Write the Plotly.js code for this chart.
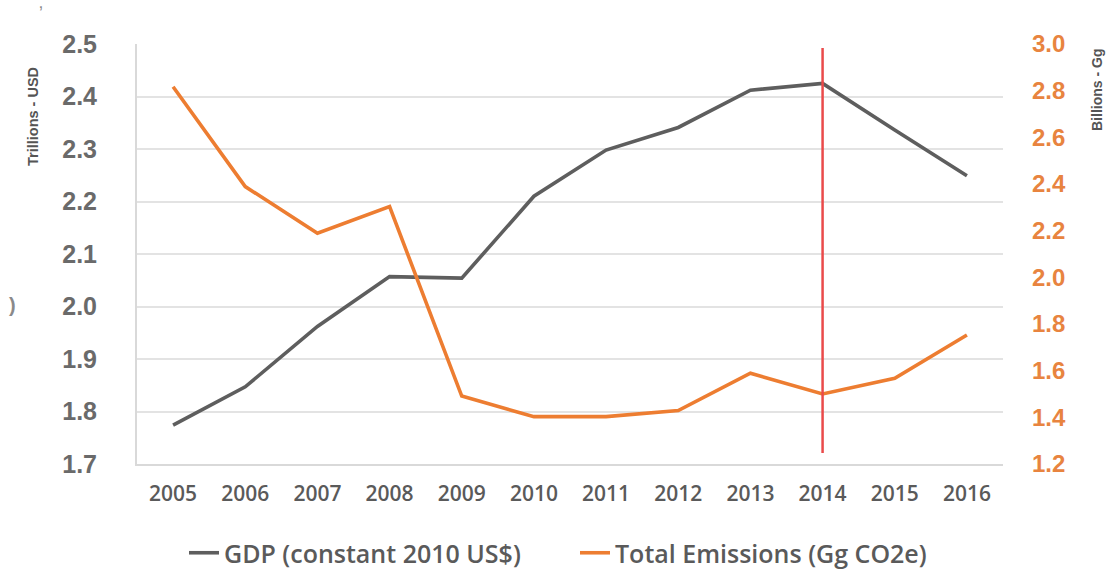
<!DOCTYPE html>
<html>
<head>
<meta charset="utf-8">
<script src="https://cdn.plot.ly/plotly-3.0.1.min.js"></script>
<style>html,body{margin:0;padding:0;background:#fff;}#chart{width:1107px;height:575px;}</style>
</head>
<body>
<div id="chart"></div>
<script>
var years = ['2005','2006','2007','2008','2009','2010','2011','2012','2013','2014','2015','2016'];
var gdp = [1.774, 1.847, 1.962, 2.057, 2.054, 2.210, 2.298, 2.341, 2.412, 2.425, 2.336, 2.249];
var emissions = [2.817, 2.389, 2.189, 2.303, 1.491, 1.403, 1.403, 1.429, 1.589, 1.500, 1.567, 1.753];
var gdpName = 'GDP (constant 2010 US$)';
var emName = 'Total Emissions (Gg CO2e)';
var leftTitle = 'Trillions - USD';
var rightTitle = 'Billions - Gg';
var markerYear = '2014';

var W = 1107, H = 575;
var mL = 137, mR = W - 1003, mT = 44, mB = H - 464;
var pw = W - mL - mR, ph = H - mT - mB;
function px(x){ return (x - mL) / pw; }
function py(y){ return (H - mB - y) / ph; }
function cx(x){ return x / W; }
function cy(y){ return (H - y) / H; }

var traces = [
  {x: years, y: gdp, name: gdpName, type: 'scatter', mode: 'lines', yaxis: 'y',
   line: {color: '#5e5e5e', width: 3.6}, legend: 'legend'},
  {x: years, y: emissions, name: emName, type: 'scatter', mode: 'lines', yaxis: 'y2',
   line: {color: '#ed7d31', width: 3.6}, legend: 'legend2'}
];

var legFont = {family: 'Open Sans', size: 25, color: '#5a5a5a', weight: 600};

var layout = {
  width: W, height: H,
  margin: {l: mL, r: mR, t: mT, b: mB, pad: 0},
  paper_bgcolor: '#ffffff', plot_bgcolor: '#ffffff',
  showlegend: true,
  xaxis: {
    type: 'category', categoryorder: 'array', categoryarray: years,
    range: [-0.5, years.length - 0.5], autorange: false,
    showgrid: false, zeroline: false,
    showline: true, linecolor: '#d9d9d9', linewidth: 2,
    ticks: '', ticklabelstandoff: 10,
    tickfont: {family: 'Open Sans', size: 21, color: '#5a5a5a', weight: 600}
  },
  yaxis: {
    range: [1.7, 2.5], dtick: 0.1, tick0: 1.7, tickformat: '.1f',
    showgrid: true, gridcolor: '#e3e3e3', gridwidth: 2,
    zeroline: false, showline: true, linecolor: '#d9d9d9', linewidth: 2,
    ticks: '', ticklabelstandoff: 33,
    tickfont: {family: 'Liberation Sans', size: 25, color: '#6a6a6a', weight: 700}
  },
  yaxis2: {
    overlaying: 'y', side: 'right',
    range: [1.2, 3.0], dtick: 0.2, tick0: 1.2, tickformat: '.1f',
    showgrid: false, zeroline: false, showline: false,
    ticks: '', ticklabelstandoff: 28,
    tickfont: {family: 'Liberation Sans', size: 24, color: '#e8843f', weight: 700}
  },
  legend: {
    orientation: 'h', x: cx(184), y: cy(553), xanchor: 'left', yanchor: 'middle',
    xref: 'container', yref: 'container', itemwidth: 30, font: legFont, bgcolor: 'rgba(0,0,0,0)'
  },
  legend2: {
    orientation: 'h', x: cx(575), y: cy(553), xanchor: 'left', yanchor: 'middle',
    xref: 'container', yref: 'container', itemwidth: 30, font: legFont, bgcolor: 'rgba(0,0,0,0)'
  },
  shapes: [
    {type: 'line', xref: 'x', yref: 'paper', x0: years.indexOf(markerYear), x1: years.indexOf(markerYear),
     y0: py(453), y1: py(48), line: {color: '#ea4a4a', width: 2.5}, layer: 'above'}
  ],
  annotations: [
    {text: leftTitle, xref: 'paper', yref: 'paper', x: px(33), y: py(117),
     xanchor: 'center', yanchor: 'middle', textangle: -90, showarrow: false,
     font: {family: 'Liberation Sans', size: 14.5, color: '#555555', weight: 700}},
    {text: rightTitle, xref: 'paper', yref: 'paper', x: px(1097), y: py(90),
     xanchor: 'center', yanchor: 'middle', textangle: -90, showarrow: false,
     font: {family: 'Liberation Sans', size: 14, color: '#555555', weight: 700}},
    {text: ')', xref: 'paper', yref: 'paper', x: px(12), y: py(305),
     xanchor: 'center', yanchor: 'middle', showarrow: false,
     font: {family: 'Liberation Sans', size: 20, color: '#8a8a8a', weight: 700}},
    {text: '\u02bc', xref: 'paper', yref: 'paper', x: px(41), y: py(14),
     xanchor: 'center', yanchor: 'middle', showarrow: false,
     font: {family: 'Liberation Sans', size: 18, color: '#8a8a8a'}}
  ]
};

Plotly.newPlot('chart', traces, layout, {displayModeBar: false, staticPlot: true});
</script>
</body>
</html>
